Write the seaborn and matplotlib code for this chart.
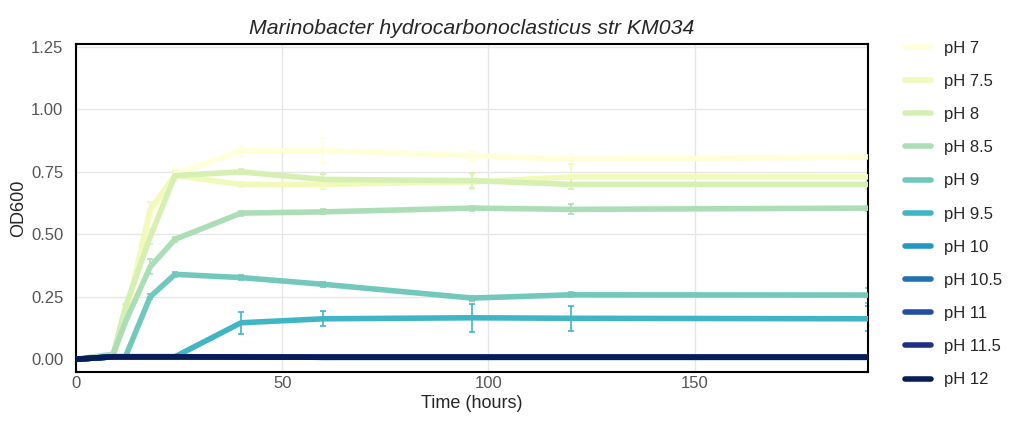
import numpy as np
import pandas as pd
import matplotlib
matplotlib.use("Agg")
import matplotlib.pyplot as plt
import seaborn as sns

times = [0, 9, 12, 18, 24, 40, 60, 96, 120, 192]
labels = ["pH 7", "pH 7.5", "pH 8", "pH 8.5", "pH 9", "pH 9.5",
          "pH 10", "pH 10.5", "pH 11", "pH 11.5", "pH 12"]

ph7 = [0.0, 0.01, 0.15, 0.58, 0.74, 0.835, 0.835, 0.815, 0.80, 0.81]
ph75 = [0.0, 0.01, 0.17, 0.60, 0.735, 0.70, 0.70, 0.71, 0.73, 0.73]
ph8 = [0.0, 0.02, 0.21, 0.49, 0.735, 0.75, 0.72, 0.715, 0.70, 0.70]
ph85 = [0.0, 0.02, 0.15, 0.37, 0.48, 0.585, 0.59, 0.605, 0.60, 0.605]
ph9 = [0.0, 0.01, 0.01, 0.25, 0.34, 0.327, 0.30, 0.245, 0.258, 0.257]
ph95 = [0.0, 0.01, 0.01, 0.01, 0.01, 0.146, 0.162, 0.166, 0.164, 0.162]
ph10 = [0.0, 0.01, 0.01, 0.01, 0.01, 0.009, 0.008, 0.008, 0.008, 0.008]
ph105 = [0.0, 0.01, 0.01, 0.01, 0.01, 0.009, 0.008, 0.008, 0.008, 0.008]
ph11 = [0.0, 0.01, 0.01, 0.01, 0.01, 0.009, 0.008, 0.008, 0.008, 0.008]
ph115 = [0.0, 0.01, 0.01, 0.01, 0.01, 0.009, 0.008, 0.008, 0.008, 0.008]
ph12 = [0.0, 0.01, 0.01, 0.01, 0.01, 0.009, 0.008, 0.008, 0.008, 0.008]

sd7 = [0, 0.005, 0.01, 0.02, 0.02, 0.02, 0.05, 0.02, 0.02, 0.02]
sd75 = [0, 0.005, 0.01, 0.03, 0.02, 0.01, 0.02, 0.03, 0.05, 0.02]
sd8 = [0, 0.005, 0.01, 0.03, 0.01, 0.01, 0.02, 0.03, 0.02, 0.02]
sd85 = [0, 0.005, 0.01, 0.03, 0.01, 0.01, 0.01, 0.01, 0.02, 0.01]
sd9 = [0, 0.003, 0.005, 0.01, 0.01, 0.01, 0.01, 0.01, 0.01, 0.03]
sd95 = [0, 0.003, 0.003, 0.003, 0.005, 0.045, 0.03, 0.055, 0.05, 0.05]
sd_low = [0, 0.002, 0.002, 0.002, 0.002, 0.002, 0.002, 0.002, 0.002, 0.002]

means = [ph7, ph75, ph8, ph85, ph9, ph95, ph10, ph105, ph11, ph115, ph12]
sds = [sd7, sd75, sd8, sd85, sd9, sd95, sd_low, sd_low, sd_low, sd_low, sd_low]

rows = []
for lab, m in zip(labels, means):
    for t, v in zip(times, m):
        rows.append({"Time": t, "OD600": v, "pH": lab})
df = pd.DataFrame(rows)

cmap = plt.get_cmap("YlGnBu")
palette = [cmap(v) for v in np.linspace(0, 1, len(labels))]

sns.set_style("white")
plt.rcParams["font.family"] = ["Liberation Sans", "DejaVu Sans"]

fig = plt.figure(figsize=(10.10, 4.21), dpi=100)
ax = fig.add_axes([0.0752, 0.1164, 0.7842, 0.7791])

for lab, m, s, c in zip(labels, means, sds, palette):
    ax.errorbar(times, m, yerr=s, fmt="none", ecolor=c, elinewidth=1.2,
                capsize=2.5, capthick=1.2, zorder=2)

sns.lineplot(data=df, x="Time", y="OD600", hue="pH", hue_order=labels,
             palette=palette, linewidth=4, ax=ax, zorder=3, legend=True)

ax.set_xlim(0, 192)
ax.set_ylim(-0.051, 1.262)
ax.set_xticks([0, 50, 100, 150])
ax.set_yticks([0, 0.25, 0.5, 0.75, 1.0, 1.25])
ax.set_yticklabels(["0.00", "0.25", "0.50", "0.75", "1.00", "1.25"])
ax.grid(True, color="#e6e6e6", linewidth=1)
ax.set_axisbelow(True)
ax.tick_params(axis="both", length=0, labelsize=12, labelcolor="#555555")
ax.tick_params(axis="y", pad=9)
ax.tick_params(axis="x", pad=3)
for sp in ax.spines.values():
    sp.set_color("black")
    sp.set_linewidth(1.5)
ax.set_xlabel("Time (hours)", fontsize=13, labelpad=3)
ax.set_ylabel("OD600", fontsize=13, labelpad=3)
ax.set_title("Marinobacter hydrocarbonoclasticus str KM034", fontsize=15.3,
             style="italic", pad=7)

handles, labs = ax.get_legend_handles_labels()
leg = ax.legend(handles, labs, loc="upper left", bbox_to_anchor=(0.889, 0.919),
                bbox_transform=fig.transFigure, frameon=False, fontsize=12,
                handlelength=1.6, handletextpad=0.78, labelspacing=1.09,
                borderaxespad=0)
for h in leg.get_lines():
    h.set_linewidth(4)

fig.savefig("out.png", dpi=100)
